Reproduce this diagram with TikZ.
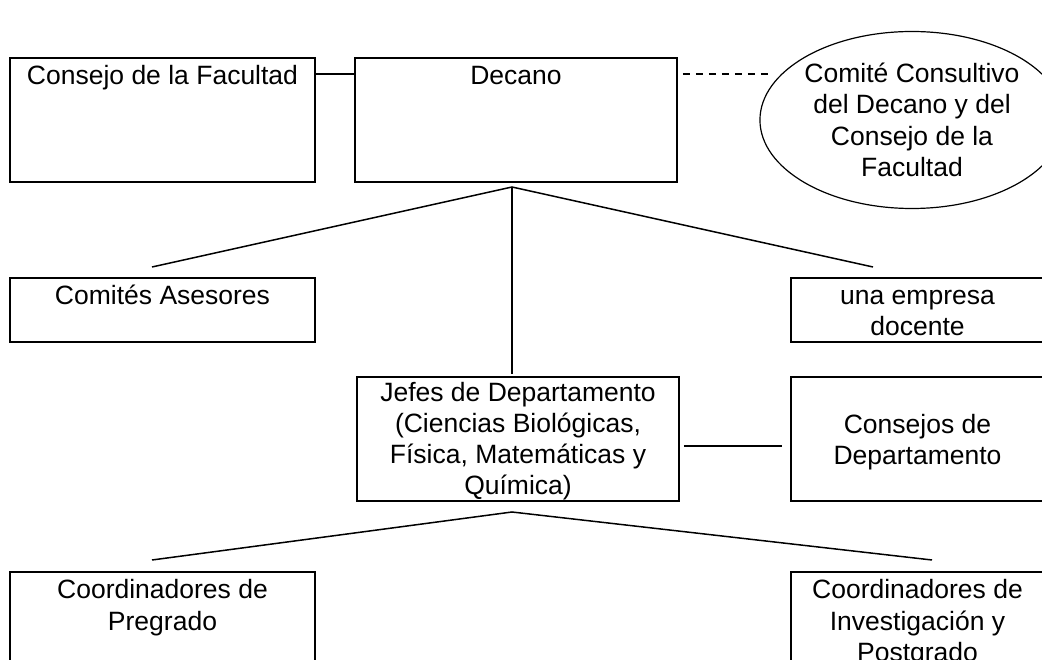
\documentclass[tikz,border=0pt]{standalone}
\usepackage{fontspec}
\setmainfont{Liberation Sans}
\usetikzlibrary{calc, shapes}
\tikzset{
  unit/.style={draw, line width=1.5pt, minimum width=305pt, minimum height=124pt, inner sep=0pt},
  unittext/.style={anchor=north, align=flush center, text width=300pt, inner sep=0pt,
                   font=\fontsize{26.5}{31.5}\selectfont, execute at begin node=\strut},
  link/.style={line width=1.5pt}
}

\begin{document}
\begin{tikzpicture}[x=1pt, y=-1pt]
    \useasboundingbox (0,0) rectangle (1042,660);

    % Coordinates
    \coordinate (top1) at (512,187);
    \coordinate (left1) at (152,267);
    \coordinate (right1) at (873,267);
    \coordinate (mid1) at (512,374);
    \coordinate (top2) at (512,512);
    \coordinate (left2) at (152,560);
    \coordinate (right2) at (932,560);

    % Top row
    \node[unit] (fac) at (162.5,120) {};
    \node[unit, minimum width=322pt] (dec) at (516,120) {};
    \node[draw, ellipse, line width=1.2pt, minimum width=258pt, minimum height=177pt,
          inner sep=0pt, align=center, font=\fontsize{26.5}{31.5}\selectfont] (cons) at (912,120)
          {Comité Consultivo\\del Decano y del\\Consejo de la\\Facultad};
    % Text
    \node[unittext] (tfac) at ($(fac.north)+(0,5)$) {Consejo de la Facultad};
    \node[unittext] (tdec) at ($(dec.north)+(0,5)$) {Decano};

    % Second row
    \node[unit, minimum height=64pt] (com) at (162.5,310) {};
    \node[unit, minimum width=253pt, minimum height=64pt] (emp) at (917.5,310) {};
    % Text
    \node[unittext] (tcom) at ($(com.north)+(0,5)$) {Comités Asesores};
    \node[unittext] (temp) at ($(emp.north)+(0,5)$) {una empresa\\docente};

    % Third row
    \node[unit, minimum width=322pt] (jef) at (518,439) {};
    \node[unit, minimum width=253pt] (cdep) at (917.5,439) {};
    % Text
    \node[unittext, font=\fontsize{26.5}{31}\selectfont] (tjef) at ($(jef.north)+(0,3)$)
        {Jefes de Departamento\\(Ciencias Biológicas,\\Física, Matemáticas y\\Química)};
    \node[unittext] (tcdep) at ($(cdep.north)+(0,35)$) {Consejos de\\Departamento};

    % Bottom row
    \node[unit] (cpre) at (162.5,634) {};
    \node[unit, minimum width=253pt] (cinv) at (917.5,634) {};
    % Text
    \node[unittext] (tcpre) at ($(cpre.north)+(0,5)$) {Coordinadores de\\Pregrado};
    \node[unittext] (tcinv) at ($(cinv.north)+(0,5)$) {Coordinadores de\\Investigación y\\Postgrado};

    % Lines
    \draw[link] ($(fac.north east)+(0,17)$) -- ($(dec.north west)+(0,17)$);
    \draw[link, dash pattern=on 7pt off 6pt] ($(dec.north east)+(5,17)$) -- ($(dec.north east)+(93,17)$);
    \draw[link] (left1) -- (top1) -- (right1);
    \draw[link] (top1) -- (mid1);
    \draw[link] ($(jef.east)+(4,7)$) -- ($(cdep.west)+(-8,7)$);
    \draw[link] (left2) -- (top2) -- (right2);
\end{tikzpicture}
\end{document}
